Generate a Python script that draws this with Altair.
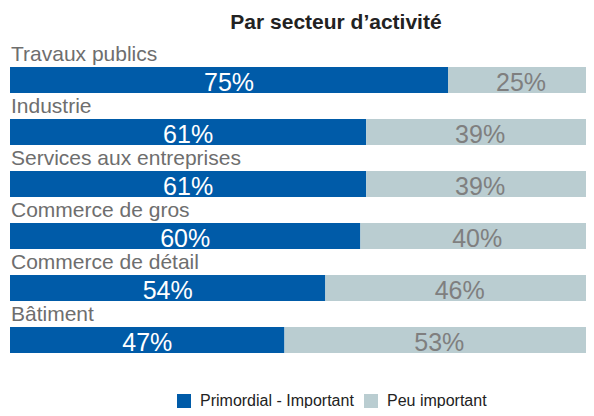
import altair as alt
import pandas as pd

categories = ["Travaux publics", "Industrie", "Services aux entreprises",
              "Commerce de gros", "Commerce de détail", "Bâtiment"]
primordial = [75, 61, 61, 60, 54, 47]
peu = [25, 39, 39, 40, 46, 53]
series = ["Primordial - Important", "Peu important"]
colors = ["#005BA8", "#BACDD1"]

rows = []
for c, a, b in zip(categories, primordial, peu):
    rows.append(dict(cat=c, serie=series[0], start=0, end=a, val=a))
    rows.append(dict(cat=c, serie=series[1], start=a, end=a + b, val=b))
df = pd.DataFrame(rows)
df["mid"] = (df["start"] + df["end"]) / 2
df["label"] = df["val"].astype(str) + "%"

FONT = "Liberation Sans"
yscale = alt.Scale(domain=categories, paddingInner=0.5, paddingOuter=0.519)
xscale = alt.Scale(domain=[0, 100], nice=False, zero=True)

base = alt.Chart(df)

bars = base.mark_bar(cornerRadius=0).encode(
    x=alt.X("start:Q", scale=xscale, axis=None),
    x2="end:Q",
    y=alt.Y("cat:N", scale=yscale, axis=None),
    color=alt.Color(
        "serie:N",
        scale=alt.Scale(domain=series, range=colors),
        legend=alt.Legend(
            title=None, orient="none", legendX=166, legendY=353,
            direction="horizontal", symbolType="square", symbolSize=196,
            symbolStrokeWidth=0, labelFontSize=16, labelFont=FONT,
            labelColor="#222222", labelOffset=8, columnPadding=9, padding=0,
        ),
    ),
)

pct = base.mark_text(font=FONT, fontSize=25, baseline="alphabetic", align="center", dy=-2).encode(
    x=alt.X("mid:Q", scale=xscale),
    y=alt.Y("cat:N", scale=yscale, bandPosition=1),
    text="label:N",
    color=alt.condition(alt.datum.serie == series[0], alt.value("#FFFFFF"), alt.value("#7F7F7F")),
)

cats = base.transform_filter(alt.datum.serie == series[0]).mark_text(
    font=FONT, fontSize=21, baseline="alphabetic", align="left", dy=-6, color="#6E6E6E"
).encode(
    x=alt.value(1),
    y=alt.Y("cat:N", scale=yscale, bandPosition=0),
    text="cat:N",
)

chart = alt.layer(bars, pct, cats).properties(
    width=584, height=340,
    autosize=alt.AutoSizeParams(type="none"),
    padding={"left": 2, "top": 32, "right": -8, "bottom": 28},
    title=alt.TitleParams("Par secteur d’activité", font=FONT, fontSize=21, fontWeight="bold",
                          color="#222222", anchor="middle", offset=7, dx=34),
).configure_view(stroke=None)

chart.save("out.html", embed_options={"renderer": "svg", "actions": False})
